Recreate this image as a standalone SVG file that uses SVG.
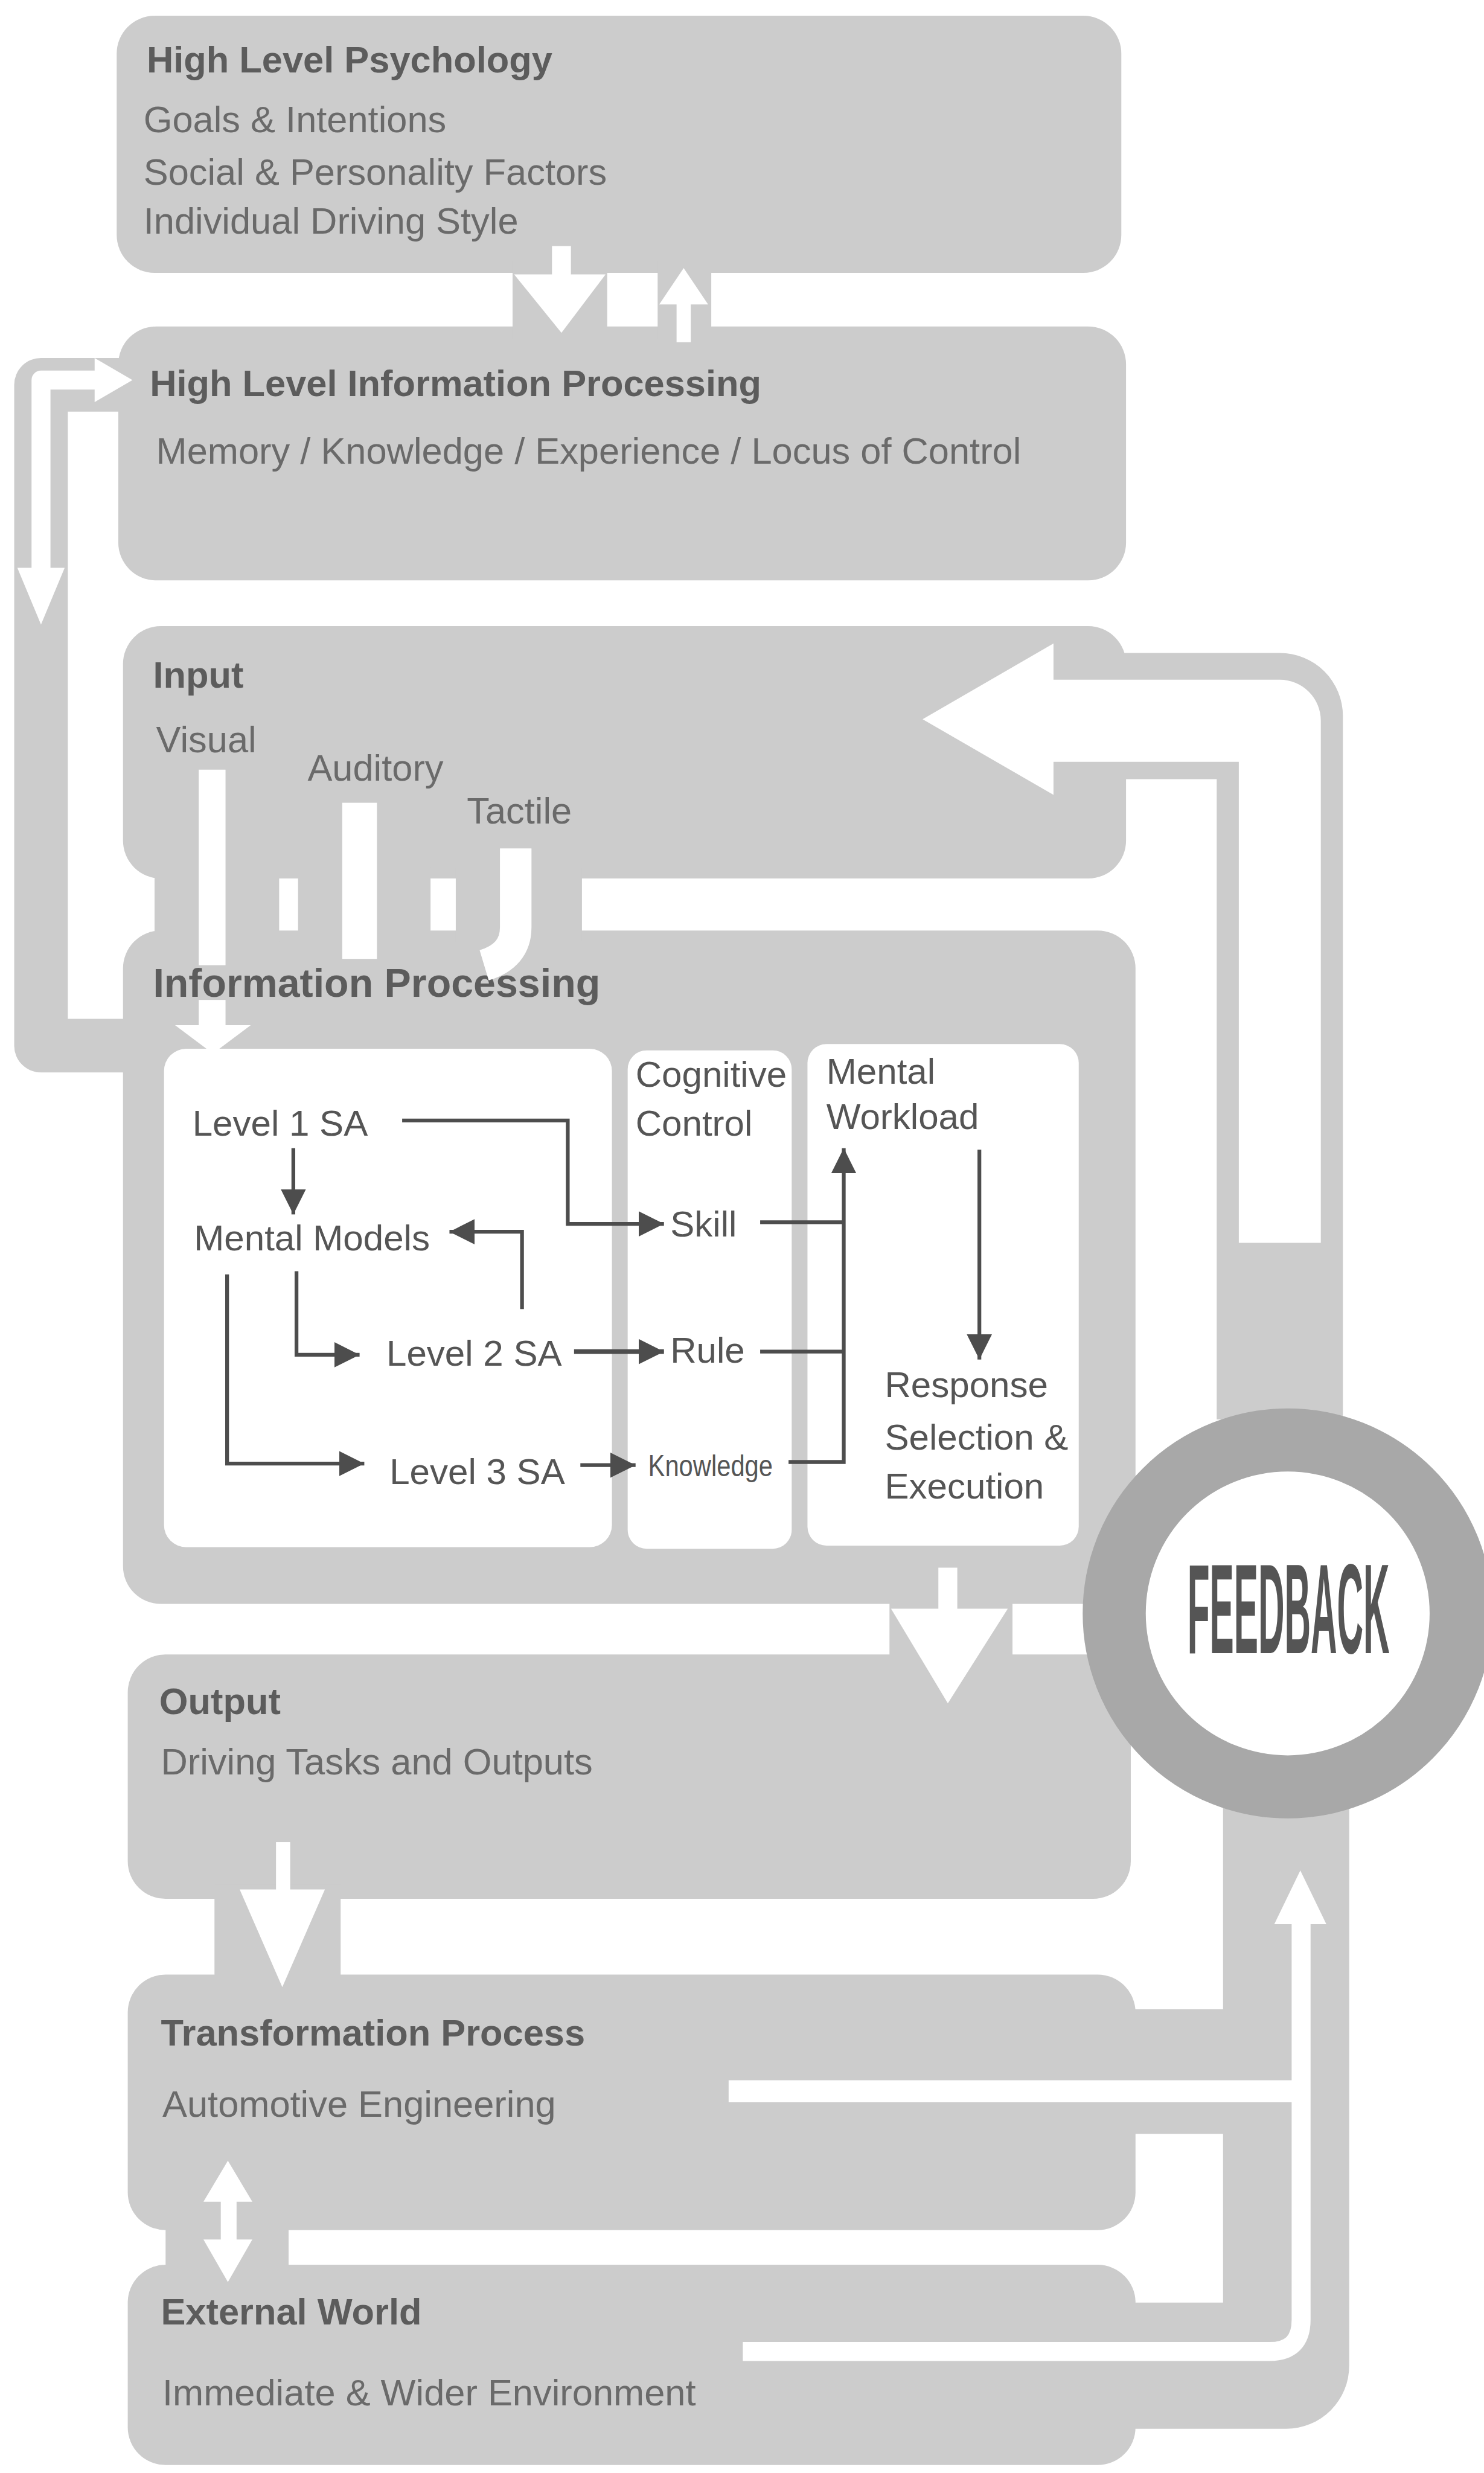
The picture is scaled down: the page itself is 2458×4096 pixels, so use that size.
<svg xmlns="http://www.w3.org/2000/svg" width="2458" height="4096" viewBox="0 0 2458 4096">
<defs>
<style>
.box{fill:#cccccc}
.band{fill:none;stroke:#cccccc;stroke-linejoin:round}
.wline{fill:none;stroke:#ffffff;stroke-linejoin:round}
.white{fill:#ffffff}
.panel{fill:#ffffff}
.t{font-family:"Liberation Sans",Arial,Helvetica,sans-serif;font-size:23.5px;fill:#6a6a6a}
.h{font-weight:bold;fill:#5c5c5c}
.p{font-family:"Liberation Sans",Arial,Helvetica,sans-serif;font-size:23px;fill:#555555}
.flow{fill:none;stroke:#4d4d4d;stroke-width:2.4}
</style>
<marker id="head" viewBox="0 0 16 16" refX="16" refY="8" markerWidth="16" markerHeight="16" markerUnits="userSpaceOnUse" orient="auto">
<path d="M0,0 L16,8 L0,16 z" fill="#4d4d4d"/>
</marker>
</defs>
<rect width="2458" height="4096" fill="#ffffff"/>
<g transform="scale(2.6122)">

<!-- boxes -->
<g id="node-high-level-psychology">
<rect class="box" x="74" y="10" width="637" height="163" rx="24"/>
<text class="t h" x="93" y="46">High Level Psychology</text>
<text class="t" x="91" y="84">Goals &amp; Intentions</text>
<text class="t" x="91" y="117">Social &amp; Personality Factors</text>
<text class="t" x="91" y="148">Individual Driving Style</text>
</g>

<g id="node-high-level-information-processing">
<rect class="box" x="75" y="207" width="639" height="161" rx="24"/>
<text class="t h" x="95" y="251">High Level Information Processing</text>
<text class="t" x="99" y="294">Memory / Knowledge / Experience / Locus of Control</text>
</g>

<g id="node-input">
<rect class="box" x="78" y="397" width="636" height="160" rx="24"/>
<text class="t h" x="97" y="436">Input</text>
<text class="t" x="99" y="477">Visual</text>
<text class="t" x="195" y="495">Auditory</text>
<text class="t" x="296" y="522">Tactile</text>
</g>

<g id="node-information-processing">
<rect class="box" x="78" y="590" width="642" height="427" rx="24"/>
<text class="t h" x="97" y="632" style="font-size:25.4px">Information Processing</text>
</g>

<g id="node-situation-awareness">
<rect class="panel" x="104" y="665" width="284" height="316" rx="14"/>
<text class="p" x="122" y="720">Level 1 SA</text>
<text class="p" x="123" y="793">Mental Models</text>
<text class="p" x="245" y="866">Level 2 SA</text>
<text class="p" x="247" y="941">Level 3 SA</text>
</g>

<g id="node-cognitive-control">
<rect class="panel" x="398" y="666" width="104" height="316" rx="12"/>
<text class="p" x="403" y="689">Cognitive</text>
<text class="p" x="403" y="720">Control</text>
<text class="p" x="425" y="784">Skill</text>
<text class="p" x="425" y="864">Rule</text>
<text class="p" x="411" y="936" style="font-size:19px" textLength="79" lengthAdjust="spacingAndGlyphs">Knowledge</text>
</g>

<g id="node-mental-workload">
<rect class="panel" x="512" y="662" width="172" height="318" rx="12"/>
<text class="p" x="524" y="687">Mental</text>
<text class="p" x="524" y="716">Workload</text>
<text class="p" x="561" y="886">Response</text>
<text class="p" x="561" y="919">Selection &amp;</text>
<text class="p" x="561" y="950">Execution</text>
</g>

<g id="node-output">
<rect class="box" x="81" y="1049" width="636" height="155" rx="24"/>
<text class="t h" x="101" y="1087">Output</text>
<text class="t" x="102" y="1125">Driving Tasks and Outputs</text>
</g>

<g id="node-transformation-process">
<rect class="box" x="81" y="1252" width="639" height="162" rx="24"/>
<text class="t h" x="102" y="1297">Transformation Process</text>
<text class="t" x="103" y="1342">Automotive Engineering</text>
</g>

<g id="node-external-world">
<rect class="box" x="81" y="1436" width="639" height="127" rx="24"/>
<text class="t h" x="102" y="1474">External World</text>
<text class="t" x="103" y="1525">Immediate &amp; Wider Environment</text>
</g>

<!-- connectors: grey channels, white arrows, inner flow lines -->
<g id="connectors">
<!-- channels -->
<rect class="box" x="325" y="165" width="60" height="50"/>
<rect class="box" x="417" y="165" width="34" height="50"/>
<path class="band" stroke-width="34" d="M90,663 H26 V244 H90"/>
<rect class="box" x="98" y="550" width="79" height="47"/>
<rect class="box" x="189" y="550" width="84" height="47"/>
<rect class="box" x="289" y="550" width="80" height="47"/>
<path class="band" stroke-width="80" d="M811.5,900 V454 H700"/>
<rect class="box" x="564" y="1010" width="78" height="45"/>
<rect class="box" x="136" y="1195" width="80" height="65"/>
<rect class="box" x="105" y="1405" width="78" height="40"/>
<path class="band" stroke-width="80" d="M815.5,1140 V1500 H700"/>
<rect class="box" x="700" y="1274" width="100" height="79"/>

<!-- white arrows -->
<rect class="white" x="350" y="156" width="12" height="20"/>
<polygon class="white" points="326,174 384,174 356,211"/>
<rect class="white" x="429" y="190" width="9" height="27"/>
<polygon class="white" points="418,193 449,193 433.5,170"/>

<path class="wline" stroke-width="12" d="M26,362 V241 H64"/>
<polygon class="white" points="60,227 84,241 60,255"/>
<polygon class="white" points="11,360 41,360 26,396"/>

<rect class="white" x="126" y="488" width="17" height="124"/>
<rect class="white" x="126" y="634" width="17" height="18"/>
<polygon class="white" points="111,650 159,650 135,668"/>
<rect class="white" x="217" y="509" width="22" height="99"/>
<path class="wline" stroke-width="20" d="M327,538 V588 Q327,606 307,612"/>

<path class="wline" stroke-width="52" d="M811.5,788 V457 H664"/>
<polygon class="white" points="668,408 668,504 585,456"/>

<rect class="white" x="595" y="994" width="12" height="28"/>
<polygon class="white" points="565,1020 639,1020 601,1080"/>
<rect class="white" x="175" y="1168" width="9" height="32"/>
<polygon class="white" points="152,1198 206,1198 179,1260"/>
<rect class="white" x="140" y="1392" width="10" height="32"/>
<polygon class="white" points="129,1396 160,1396 144.5,1370"/>
<polygon class="white" points="129,1420 160,1420 144.5,1447"/>

<path class="wline" stroke-width="12" d="M471,1491 H805 Q825,1491 825,1471 V1215"/>
<path class="wline" stroke-width="14" d="M462,1326 H825"/>
<polygon class="white" points="808,1220 841,1220 824.5,1186"/>

<!-- flows inside information processing -->
<path class="flow" d="M255,710.5 H360 V776 H421" marker-end="url(#head)"/>
<path class="flow" d="M186,728 V770" marker-end="url(#head)"/>
<path class="flow" d="M331,830 V781 H285" marker-end="url(#head)"/>
<path class="flow" d="M188,806 V859 H228" marker-end="url(#head)"/>
<path class="flow" d="M144,808 V928 H231" marker-end="url(#head)"/>
<path class="flow" style="stroke-width:3" d="M364,857 H421" marker-end="url(#head)"/>
<path class="flow" d="M368,929 H403" marker-end="url(#head)"/>
<path class="flow" d="M482,775 H535"/>
<path class="flow" d="M482,857 H535"/>
<path class="flow" d="M500,927 H535 V728" marker-end="url(#head)"/>
<path class="flow" d="M621,729 V862" marker-end="url(#head)"/>
</g>

<g id="node-feedback">
<circle cx="816.5" cy="1023" r="110" fill="#ffffff" stroke="#a8a8a8" stroke-width="40"/>
<!-- condensed lettering: bold face squeezed horizontally -->
<text transform="translate(817 1048) scale(0.285 1)" text-anchor="middle" font-family="'Liberation Sans',Arial,sans-serif" font-weight="bold" font-size="81" fill="#555555">FEEDBACK</text>
</g>

</g>
</svg>
